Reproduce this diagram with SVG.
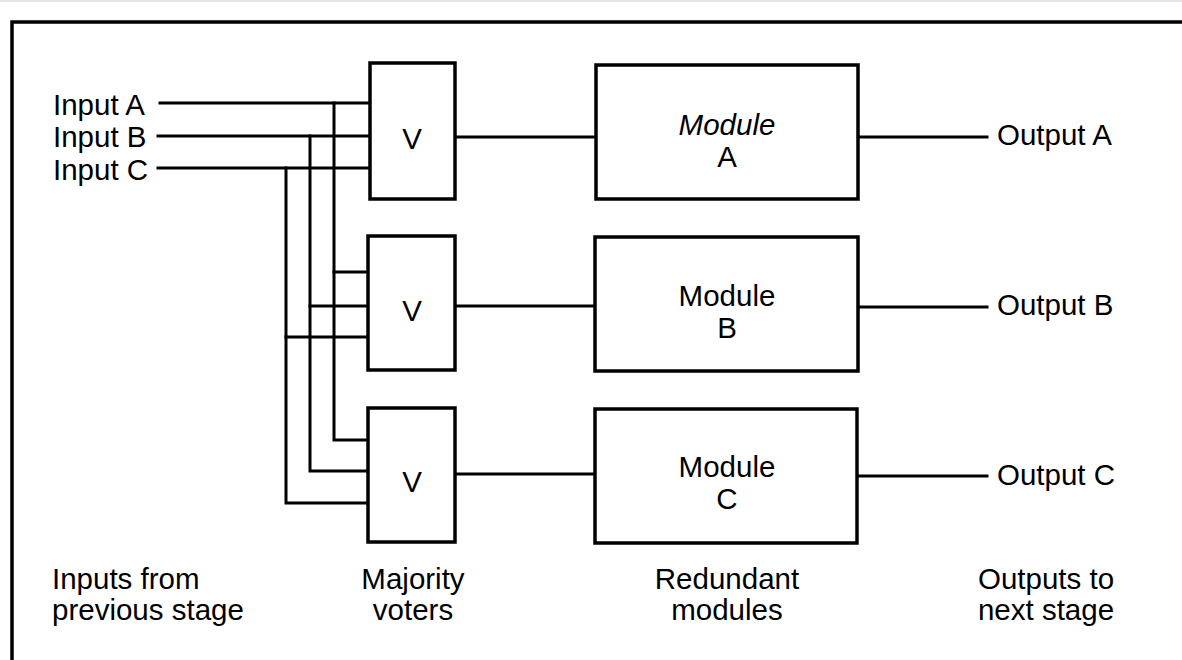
<svg xmlns="http://www.w3.org/2000/svg" width="1182" height="660" viewBox="0 0 1182 660">
<style>
.t{font-family:"Liberation Sans",Arial,sans-serif;font-size:29.5px;fill:#000}
.c{text-anchor:middle}
.box{fill:#fff;stroke:#000;stroke-width:3.5}
.w{fill:none;stroke:#000;stroke-width:3;stroke-linecap:square;stroke-linejoin:miter}
</style>
<rect x="0" y="0" width="1182" height="660" fill="#fff"/>
<rect x="0" y="0" width="1182" height="2" fill="#e4e6e8"/>
<path d="M12,660 L12,22 L1182,22" fill="none" stroke="#000" stroke-width="3.5"/>
<g id="connectors">
<path class="w" d="M160,103 H370"/>
<path class="w" d="M158,136 H370"/>
<path class="w" d="M158,168 H370"/>
<path class="w" d="M334,103 V440 H368"/>
<path class="w" d="M310,136 V471 H368"/>
<path class="w" d="M286,168 V503 H368"/>
<path class="w" d="M334,272 H368"/>
<path class="w" d="M310,306 H368"/>
<path class="w" d="M286,337 H368"/>
<path class="w" d="M455,137 H596"/>
<path class="w" d="M455,306 H596"/>
<path class="w" d="M455,474 H596"/>
<path class="w" d="M858,137 H987"/>
<path class="w" d="M858,307 H987"/>
<path class="w" d="M857,476 H987"/>
</g>
<g id="input-labels">
<text class="t" x="53" y="115">Input A</text>
<text class="t" x="53" y="147">Input B</text>
<text class="t" x="53" y="180">Input C</text>
</g>
<g id="voter1"><rect class="box" x="370" y="63" width="85" height="136"/><text class="t c" x="412" y="149">V</text></g>
<g id="voter2"><rect class="box" x="368" y="236" width="87" height="134"/><text class="t c" x="412" y="321">V</text></g>
<g id="voter3"><rect class="box" x="368" y="408" width="87" height="134"/><text class="t c" x="412" y="492">V</text></g>
<g id="moduleA"><rect class="box" x="596" y="65" width="262" height="134"/><text class="t c" x="727" y="135" font-style="italic">Module</text><text class="t c" x="727" y="167">A</text></g>
<g id="moduleB"><rect class="box" x="595" y="237" width="263" height="134"/><text class="t c" x="727" y="306">Module</text><text class="t c" x="727" y="338">B</text></g>
<g id="moduleC"><rect class="box" x="595" y="409" width="262" height="134"/><text class="t c" x="727" y="477">Module</text><text class="t c" x="727" y="509">C</text></g>
<g id="output-labels">
<text class="t" x="997" y="145">Output A</text>
<text class="t" x="997" y="315">Output B</text>
<text class="t" x="997" y="485">Output C</text>
</g>
<g id="column-labels">
<text class="t" x="52" y="589">Inputs from</text>
<text class="t" x="52" y="620">previous stage</text>
<text class="t c" x="413" y="589">Majority</text>
<text class="t c" x="413" y="620">voters</text>
<text class="t c" x="727" y="589">Redundant</text>
<text class="t c" x="727" y="620">modules</text>
<text class="t c" x="1046" y="589">Outputs to</text>
<text class="t c" x="1046" y="620">next stage</text>
</g>
</svg>
